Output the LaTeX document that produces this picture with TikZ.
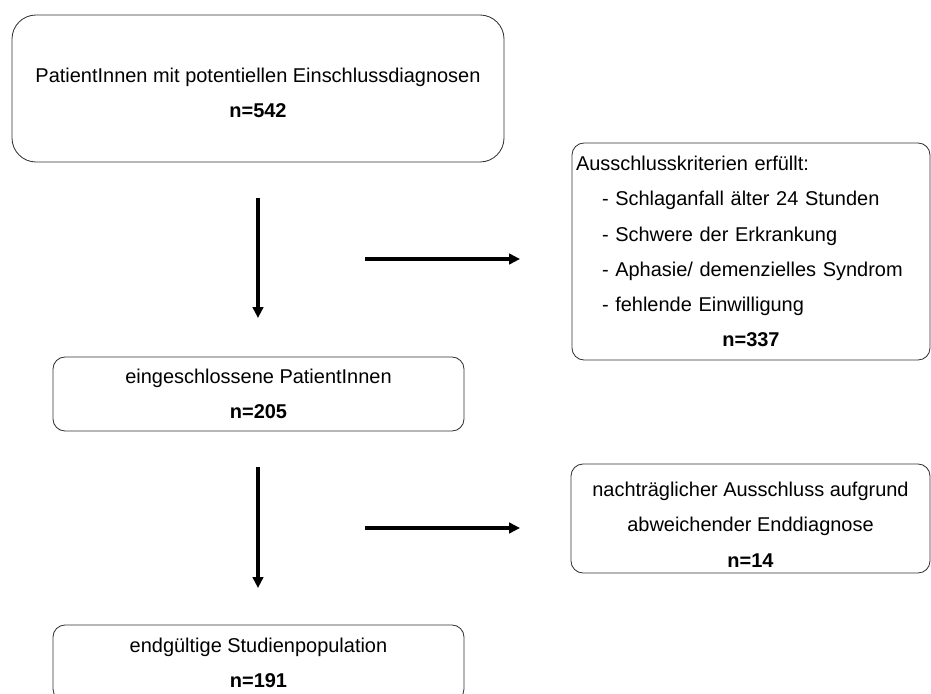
\documentclass[tikz,border=0pt]{standalone}
\usepackage{fontspec}
\setmainfont{Liberation Sans}
\usetikzlibrary{arrows.meta}
\tikzset{
  box/.style={rectangle, rounded corners=0.3cm, draw=black!80, line width=0.6pt,
              align=center, inner sep=0pt,
              font={\fontsize{14.2}{25}\selectfont}},
  bigbox/.style={box, rounded corners=0.6cm},
  listbox/.style={box, align=left, inner xsep=0.1cm},
  arrow/.style={-{Triangle[length=0.27cm, width=0.26cm]}, line width=2.8pt}
}

\begin{document}
\begin{tikzpicture}
\path[use as bounding box, clip] (0,0) rectangle (23.275,-17.325);
\node[bigbox, minimum width=12.3cm, minimum height=3.675cm] (screened) at (6.45,-2.2125)
  {\rule{0pt}{0.57cm}PatientInnen mit potentiellen Einschlussdiagnosen\\\textbf{n=542}};
\node[listbox, text width=8.75cm, minimum height=5.425cm] (excl1) at (18.775,-6.2875)
  {Ausschlusskriterien erfüllt:\\
   \hspace*{0.65cm}- Schlaganfall älter 24 Stunden\\
   \hspace*{0.65cm}- Schwere der Erkrankung\\
   \hspace*{0.65cm}- Aphasie/ demenzielles Syndrom\\
   \hspace*{0.65cm}- fehlende Einwilligung\\
   \makebox[\linewidth]{\textbf{n=337}}};
\node[box, minimum width=10.275cm, minimum height=1.85cm] (included) at (6.4625,-9.85)
  {eingeschlossene PatientInnen\\\textbf{n=205}};
\node[box, minimum width=8.975cm, minimum height=2.725cm] (excl2) at (18.7625,-12.9625)
  {\rule{0pt}{0.67cm}nachträglicher Ausschluss aufgrund\\abweichender Enddiagnose\\\textbf{n=14}};
\node[box, minimum width=10.275cm, minimum height=1.9cm] (final) at (6.4625,-16.575)
  {endgültige Studienpopulation\\\textbf{n=191}};
% free-standing arrows
\coordinate (d1a) at (6.45,-4.95);
\coordinate (d1b) at (6.45,-7.95);
\coordinate (r1a) at (9.125,-6.475);
\coordinate (r1b) at (13.0,-6.475);
\coordinate (d2a) at (6.45,-11.675);
\coordinate (d2b) at (6.45,-14.7);
\coordinate (r2a) at (9.125,-13.2);
\coordinate (r2b) at (13.0,-13.2);
\draw[arrow] (d1a) -- (d1b);
\draw[arrow] (r1a) -- (r1b);
\draw[arrow] (d2a) -- (d2b);
\draw[arrow] (r2a) -- (r2b);
\end{tikzpicture}
\end{document}
